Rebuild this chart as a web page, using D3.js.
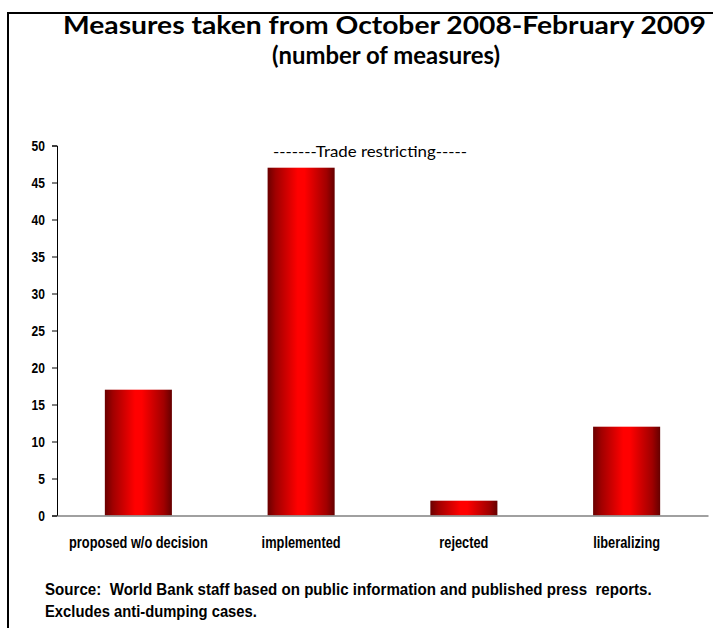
<!DOCTYPE html>
<html><head><meta charset="utf-8">
<script src="https://cdn.jsdelivr.net/npm/d3@7"></script>
<style>
html,body{margin:0;padding:0;background:#fff;}
svg{display:block;}
.narrow{font-family:"Liberation Sans",Arial,sans-serif;font-weight:bold;}
.cal{font-family:Lato,"Open Sans",sans-serif;}
.pre{white-space:pre;}
</style></head>
<body>
<script>
const categories = ["proposed w/o decision","implemented","rejected","liberalizing"];
const values = [17, 47, 2, 12];
const yTicks = [0,5,10,15,20,25,30,35,40,45,50];
const titleLines = ["Measures taken from October 2008-February 2009","(number of measures)"];
const annotation = "-------Trade restricting-----";
const sourceLines = ["Source:  World Bank staff based on public information and published press  reports.","Excludes anti-dumping cases."];

const W = 713, H = 628;
const svg = d3.select("body").append("svg").attr("width", W).attr("height", H);

const defs = svg.append("defs");
const grad = defs.append("linearGradient").attr("id","barGrad").attr("x1","0").attr("x2","1").attr("y1","0").attr("y2","0");
[[0,"#6a0000"],[0.12,"#a00000"],[0.45,"#ff0000"],[0.55,"#ff0000"],[0.88,"#a00000"],[1,"#650000"]].forEach(([o,c])=>grad.append("stop").attr("offset",o).attr("stop-color",c));

// frame
svg.append("line").attr("x1",7).attr("x2",W).attr("y1",13).attr("y2",13).attr("stroke","#000").attr("stroke-width",2);
svg.append("line").attr("x1",8).attr("x2",8).attr("y1",12).attr("y2",H).attr("stroke","#000").attr("stroke-width",2);

function squeeze(sel, target){
  sel.each(function(){
    const w = this.getComputedTextLength();
    const t = typeof target === "function" ? target(w) : target;
    d3.select(this).attr("textLength", t.toFixed(1)).attr("lengthAdjust","spacingAndGlyphs");
  });
}
const narrowF = w => w*0.8;

// horizontally scaled text placed via transform (keeps its box inside the page)
function scaledText(cls, str, x0, y0, fs, targetW){
  const t = svg.append("text").attr("class", cls).attr("x",0).attr("y",0)
    .attr("font-size", fs).attr("fill","#000").text(str);
  const w = t.node().getComputedTextLength();
  t.attr("transform", `translate(${x0},${y0}) scale(${(targetW/w).toFixed(4)},1)`);
  return t;
}

// title
const t1 = svg.append("text").attr("class","cal").attr("x",384.5).attr("y",33.5).attr("text-anchor","middle").attr("font-weight","bold").attr("font-size",25).attr("fill","#000").text(titleLines[0]);
squeeze(t1, 643);
const t2 = svg.append("text").attr("class","cal").attr("x",386).attr("y",64).attr("text-anchor","middle").attr("font-weight","bold").attr("font-size",25).attr("fill","#000").text(titleLines[1]);
squeeze(t2, 228);

const x = d3.scaleBand().domain(categories).range([57,708]).paddingInner(0.588).paddingOuter(0.294);
const y = d3.scaleLinear().domain([0,50]).range([515.5,145.5]);

// bars
svg.append("g").selectAll("rect").data(values).join("rect")
  .attr("x",(d,i)=>x(categories[i]))
  .attr("y",d=>y(d))
  .attr("width",x.bandwidth())
  .attr("height",d=>y(0)-y(d))
  .attr("fill","url(#barGrad)");

// y axis
const ya = svg.append("g").attr("transform","translate(57,0)")
  .call(d3.axisLeft(y).tickValues(yTicks).tickSize(5).tickPadding(7));
ya.select(".domain").attr("stroke","#000").attr("stroke-width",1);
ya.selectAll(".tick line").attr("stroke","#000");
ya.selectAll(".tick text").attr("class","narrow").attr("font-size",15).attr("fill","#000");
squeeze(ya.selectAll(".tick text"), narrowF);

// x axis
const xa = svg.append("g").attr("transform",`translate(0,${y(0)})`)
  .call(d3.axisBottom(x).tickSize(0).tickPadding(21));
xa.select(".domain").attr("stroke","#808080").attr("stroke-width",1.5);
xa.selectAll(".tick text").attr("class","narrow").attr("font-size",16).attr("fill","#000");
squeeze(xa.selectAll(".tick text"), narrowF);

// annotation
const an = svg.append("text").attr("class","cal").attr("x",370).attr("y",157).attr("text-anchor","middle").attr("font-size",16).attr("fill","#000").text(annotation);
squeeze(an, 194);

// source
scaledText("narrow pre", sourceLines[0], 45, 595, 17, 607);
scaledText("narrow pre", sourceLines[1], 45, 617, 17, 212);
</script>
</body></html>
